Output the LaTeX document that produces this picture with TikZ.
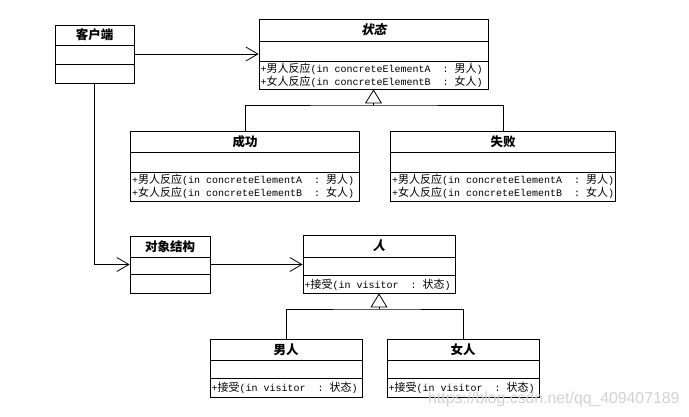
\documentclass[tikz,border=0pt]{standalone}
\usepackage{fontspec}
\setmonofont{Liberation Mono}
\newfontfamily\cjk{Noto Sans CJK SC}
\newfontfamily\cjksl{Noto Sans CJK SC}[FakeSlant=0.22]
\newfontfamily\wmfont{Liberation Sans}
\usetikzlibrary{arrows.meta}
\newcommand\Cj[1]{{\cjk\fontsize{11}{13}\selectfont #1}}
\begin{document}
\begin{tikzpicture}[x=1pt,y=-1pt,
  box/.style={draw=black, line width=0.8pt, inner sep=0pt},
  sep/.style={line width=0.8pt},
  ttl/.style={inner sep=0pt, font=\cjk\bfseries\fontsize{12.5}{14}\selectfont},
  ttli/.style={inner sep=0pt, font=\cjksl\bfseries\fontsize{12.5}{14}\selectfont},
  mth/.style={inner sep=0pt, anchor=west, font=\ttfamily\fontsize{10}{13}\selectfont},
  assoc/.style={line width=0.8pt, -{Straight Barb[length=12pt,width=14pt,line width=0.8pt]}},
  gen/.style={line width=0.8pt, -{Triangle[open,length=14pt,width=17pt,line width=0.8pt]}},
  conn/.style={line width=0.8pt}]
\useasboundingbox[fill=white] (0,0) rectangle (689,416);

% client
\node[box, minimum width=79pt, minimum height=58pt] (client) at (94.5,54) {};
\draw[sep] (55,45) -- (134,45);
\draw[sep] (55,64) -- (134,64);
\node[ttl] (clientT) at (94.5,35) {客户端};

% state
\node[box, minimum width=229pt, minimum height=70pt] (state) at (373.5,54) {};
\draw[sep] (259,41) -- (488,41);
\draw[sep] (259,61) -- (488,61);
\node[ttli] (stateT) at (373.5,30) {状态};
\node[mth] (stateM1) at (260.5,69) {+\Cj{男人反应}(in concreteElementA\ \ :\ \Cj{男人})};
\node[mth] (stateM2) at (260.5,82) {+\Cj{女人反应}(in concreteElementB\ \ :\ \Cj{女人})};

% success
\node[box, minimum width=229pt, minimum height=70pt] (success) at (245,166) {};
\draw[sep] (130.5,152) -- (359.5,152);
\draw[sep] (130.5,172) -- (359.5,172);
\node[ttl] (successT) at (245,141.5) {成功};
\node[mth] (successM1) at (132,180) {+\Cj{男人反应}(in concreteElementA\ \ :\ \Cj{男人})};
\node[mth] (successM2) at (132,193) {+\Cj{女人反应}(in concreteElementB\ \ :\ \Cj{女人})};

% fail
\node[box, minimum width=225pt, minimum height=70pt] (fail) at (503,166) {};
\draw[sep] (390.5,152) -- (615.5,152);
\draw[sep] (390.5,172) -- (615.5,172);
\node[ttl] (failT) at (503,141.5) {失败};
\node[mth] (failM1) at (392,180) {+\Cj{男人反应}(in concreteElementA\ \ :\ \Cj{男人})};
\node[mth] (failM2) at (392,193) {+\Cj{女人反应}(in concreteElementB\ \ :\ \Cj{女人})};

% object structure
\node[box, minimum width=80pt, minimum height=57pt] (obj) at (170,264.5) {};
\draw[sep] (130,257) -- (210,257);
\draw[sep] (130,274) -- (210,274);
\node[ttl] (objT) at (170,246.5) {对象结构};

% person
\node[box, minimum width=152pt, minimum height=58pt] (person) at (379,264) {};
\draw[sep] (303,257) -- (455,257);
\draw[sep] (303,275) -- (455,275);
\node[ttli] (personT) at (379,246) {人};
\node[mth] (personM) at (304.5,284.5) {+\Cj{接受}(in visitor\ \ :\ \Cj{状态})};

% man
\node[box, minimum width=152pt, minimum height=58pt] (man) at (286,368) {};
\draw[sep] (210,360) -- (362,360);
\draw[sep] (210,378) -- (362,378);
\node[ttl] (manT) at (286,349.5) {男人};
\node[mth] (manM) at (211.5,388) {+\Cj{接受}(in visitor\ \ :\ \Cj{状态})};

% woman
\node[box, minimum width=152pt, minimum height=58pt] (woman) at (463,368) {};
\draw[sep] (387,360) -- (539,360);
\draw[sep] (387,378) -- (539,378);
\node[ttl] (womanT) at (463,349.5) {女人};
\node[mth] (womanM) at (388.5,388) {+\Cj{接受}(in visitor\ \ :\ \Cj{状态})};

% connectors
\draw[assoc] (client.east) -- (state.west);
\draw[assoc] (client.south) |- (obj.west);
\draw[assoc] (obj.east) -- (obj.east -| person.west);
\coordinate (sj) at (373.5,105);
\draw[conn] (success.north) |- (sj) -| (fail.north);
\draw[gen] (sj) -- (state.south);
\coordinate (pj) at (379,309);
\draw[conn] (man.north) |- (pj) -| (woman.north);
\draw[gen] (pj) -- (person.south);

% watermark
\node[anchor=base west, inner sep=0pt, text=gray!35, font=\wmfont\fontsize{15.8}{18}\selectfont] (wm) at (428,403.5) {https://blog.csdn.net/qq\_409407189};
\end{tikzpicture}
\end{document}
